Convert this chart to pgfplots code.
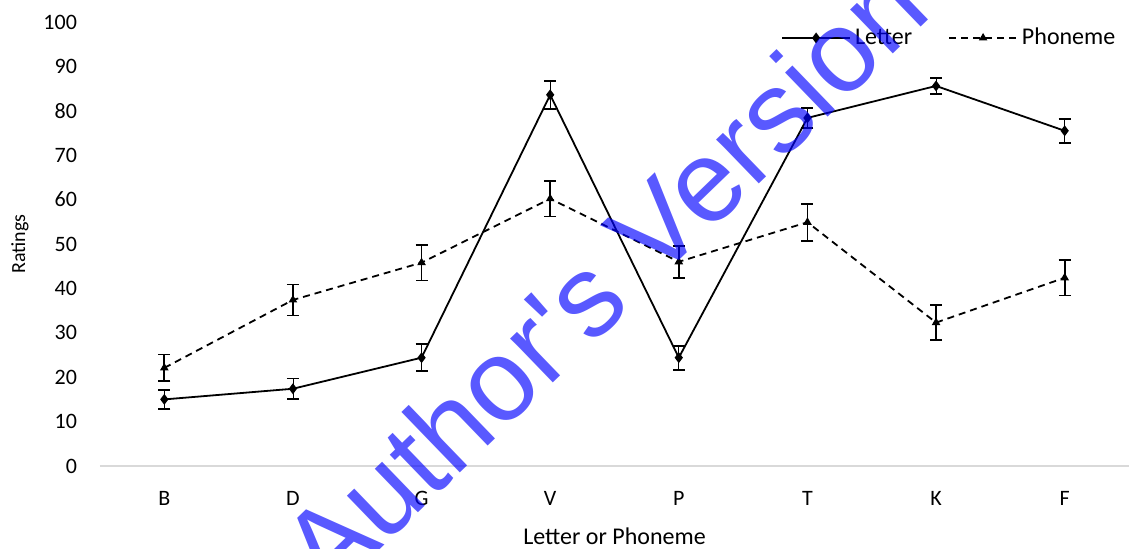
\documentclass[border=0pt]{standalone}
\usepackage{pgfplots}
\pgfplotsset{compat=1.18}
\usepackage{fontspec}
\setmainfont{Carlito}
\newfontfamily\wmfont{Liberation Sans}
\definecolor{axgray}{RGB}{217,217,217}
\begin{document}
\begin{tikzpicture}
\begin{axis}[
  scale only axis,
  width=514.5pt, height=222pt,
  xmin=0, xmax=8, ymin=0, ymax=100,
  ytick distance=10,
  xtick={0.5,1.5,2.5,3.5,4.5,5.5,6.5,7.5},
  xticklabels={B,D,G,V,P,T,K,F},
  /pgf/number format/assume math mode=true,
  tick style={draw=none},
  axis x line*=bottom, axis y line*=left,
  x axis line style={draw=axgray, line width=0.75pt},
  y axis line style={draw=none},
  ticklabel style={font=\fontsize{11}{13}\selectfont},
  yticklabel style={xshift=-8pt},
  xticklabel style={yshift=-9pt},
  xlabel={Letter or Phoneme},
  ylabel={Ratings},
  xlabel style={font=\fontsize{12}{14}\selectfont, at={(axis description cs:0.5,0)}, anchor=center, yshift=-35pt},
  ylabel style={font=\fontsize{10}{12}\selectfont, at={(axis description cs:-0.0777,0.5)}, anchor=center},
  legend style={draw=none, fill=none, legend columns=2, at={(0.991,0.964)}, anchor=east,
    inner sep=0pt, font=\fontsize{12}{14}\selectfont,
    /tikz/every even column/.append style={column sep=16pt}},
  legend image code/.code={\draw[mark repeat=2,mark phase=2,#1] plot coordinates {(0pt,0pt) (17pt,0pt) (34pt,0pt)};},
  clip=false,
]
\addplot[black, line width=0.9pt, mark=diamond*, mark size=2pt, mark options={solid},
  error bars/.cd, y dir=both, y explicit,
  error mark options={rotate=90, mark size=3pt, line width=0.9pt}]
  coordinates {
  (0.5,15.0) +- (0,2.2)
  (1.5,17.4) +- (0,2.3)
  (2.5,24.4) +- (0,3.0)
  (3.5,83.6) +- (0,3.2)
  (4.5,24.4) +- (0,2.7)
  (5.5,78.4) +- (0,2.3)
  (6.5,85.6) +- (0,1.8)
  (7.5,75.5) +- (0,2.7)
  };
\addlegendentry{Letter}
\addplot[black, line width=0.9pt, dash pattern=on 3.5pt off 2.5pt, mark=triangle*, mark size=1.6pt, mark options={solid},
  error bars/.cd, y dir=both, y explicit,
  error mark options={rotate=90, mark size=3pt, line width=0.9pt, solid},
  error bar style={solid, line width=0.9pt}]
  coordinates {
  (0.5,22.1) +- (0,3.0)
  (1.5,37.4) +- (0,3.5)
  (2.5,45.8) +- (0,4.0)
  (3.5,60.2) +- (0,4.0)
  (4.5,46.0) +- (0,3.6)
  (5.5,54.9) +- (0,4.2)
  (6.5,32.3) +- (0,4.0)
  (7.5,42.4) +- (0,4.0)
  };
\addlegendentry{Phoneme}
\end{axis}
\node[rotate=44, text=blue, opacity=0.65, font=\wmfont\fontsize{58}{60}\selectfont, inner sep=0pt] at (251.5pt,94.5pt) {Author's Version};
\pgfresetboundingbox
\path (-50pt,-41pt) rectangle (515pt,233pt);
\end{tikzpicture}
\end{document}
